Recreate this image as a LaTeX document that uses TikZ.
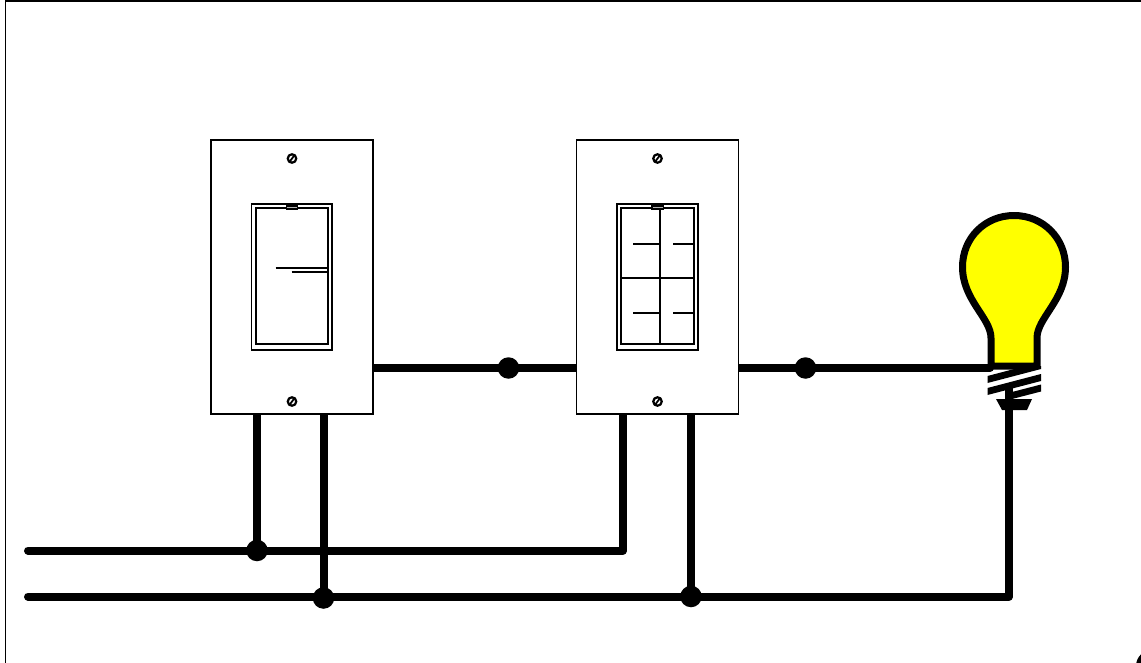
\documentclass[tikz,border=0pt]{standalone}
\definecolor{bulbyellow}{rgb}{1,1,0}
\begin{document}
\begin{tikzpicture}[x=1pt,y=-1pt,
  plate/.style={draw=black,line width=1.8pt,fill=white,rectangle,inner sep=0pt,minimum width=162pt,minimum height=274pt},
  thin part/.style={draw=black,line width=1.9pt},
  wire/.style={draw=black,line width=8pt,line join=round},
  junction/.style={circle,fill=black,draw=none,inner sep=0pt,minimum size=21.5pt},
  screw/.style={circle,draw=black,line width=2.2pt,fill=white,inner sep=0pt,minimum size=8.5pt}]
\useasboundingbox (0,0) rectangle (1141,663);
\fill[white] (0,0) rectangle (1141,663);
\begin{scope}
\clip (0,0) rectangle (1141,663);
\draw[black,line width=1.6pt] (5.5,663) -- (5.5,1) -- (1141,1);
\fill[black] (1152,666) circle (16);
\end{scope}
% junctions and wire ends
\coordinate (L1) at (28,550.5);
\coordinate (L2) at (28,596.5);
\coordinate (C1) at (623,550.5);
\coordinate (C2) at (1009,596.5);
\coordinate (B1) at (990,368);
\coordinate (B2) at (1009,405);
\coordinate (S1a) at (257,414);
\coordinate (S1b) at (323.5,414);
\coordinate (S2a) at (623,414);
\coordinate (S2b) at (691,414);
\coordinate (S1e) at (373,368);
\coordinate (S2w) at (577,368);
\coordinate (S2e) at (738,368);
% wires
\draw[wire,line cap=round] (L1) -- (C1) -- (S2a);
\draw[wire,line cap=round] (L2) -- (C2) -- (B2);
\draw[wire] (S1a) -- (S1a |- L1);
\draw[wire] (S1b) -- (S1b |- L2);
\draw[wire] (S2b) -- (S2b |- L2);
\draw[wire] (S1e) -- (S2w);
\draw[wire,line cap=round] (S2e) -- (B1);
% dots
\node[junction] (j1) at (508.5,368) {};
\node[junction] (j2) at (805.5,368) {};
\node[junction] (j3) at (257,550.5) {};
\node[junction] (j4) at (323.5,598) {};
\node[junction] (j5) at (691,596.5) {};
% switch 1
\node[plate] (sw1) at (292,277) {};
\node[screw] (s1t) at (292,158.5) {};
\node[screw] (s1b) at (292,401.5) {};
\draw[line width=1.8pt] (289,162.5) -- (295,154.5);
\draw[line width=1.8pt] (289,405.5) -- (295,397.5);
\draw[thin part] (251.5,204) rectangle (332.3,349.7);
\draw[thin part] (255.7,208.3) rectangle (328.3,344);
\draw[line width=1.4pt,fill=gray!60] (286.3,206) rectangle (297.7,209);
\draw[thin part] (275.5,268.3) -- (328,268.3);
\draw[thin part] (291.5,272) -- (328,272);
% switch 2
\node[plate] (sw2) at (657.5,277) {};
\node[screw] (s2t) at (657.5,158.5) {};
\node[screw] (s2b) at (657.5,401.5) {};
\draw[line width=1.8pt] (654.5,162.5) -- (660.5,154.5);
\draw[line width=1.8pt] (654.5,405.5) -- (660.5,397.5);
\draw[thin part] (617,204) rectangle (698,349.7);
\draw[thin part] (621,208.3) rectangle (693.7,344);
\draw[line width=1.4pt,fill=gray!60] (652,206) rectangle (663.3,209);
\draw[thin part] (660.3,208.3) -- (660.3,344);
\draw[thin part] (621,278) -- (693.7,278);
\draw[thin part] (633,244.3) -- (660.3,244.3);
\draw[thin part] (673,244.3) -- (693.7,244.3);
\draw[thin part] (633,312.7) -- (660.3,312.7);
\draw[thin part] (673,312.7) -- (693.7,312.7);
% bulb
\draw[line width=7pt,fill=bulbyellow,line join=round]
  (991,366) -- (991,338)
  .. controls (991,318) and (962.5,300) .. (962.5,267)
  .. controls (962.5,238) and (985,215.5) .. (1014,215.5)
  .. controls (1043,215.5) and (1065.5,238) .. (1065.5,267)
  .. controls (1065.5,300) and (1037,318) .. (1037,338)
  -- (1037,366) -- cycle;
% threads
\begin{scope}
\clip (987.5,366) rectangle (1041,412);
\fill[black] (987.5,376) -- (1041,362) -- (1041,369) -- (987.5,383) -- cycle;
\fill[black] (987.5,388) -- (1041,374) -- (1041,381) -- (987.5,395) -- cycle;
\fill[black] (1007,393.3) -- (1041,384.5) -- (1041,391.5) -- (1007,400.3) -- cycle;
\end{scope}
\fill[black] (1005,385) rectangle (1013,402);
\fill[black] (996,399) -- (1032,399) -- (1027,410) -- (1002,410) -- cycle;
\end{tikzpicture}
\end{document}
